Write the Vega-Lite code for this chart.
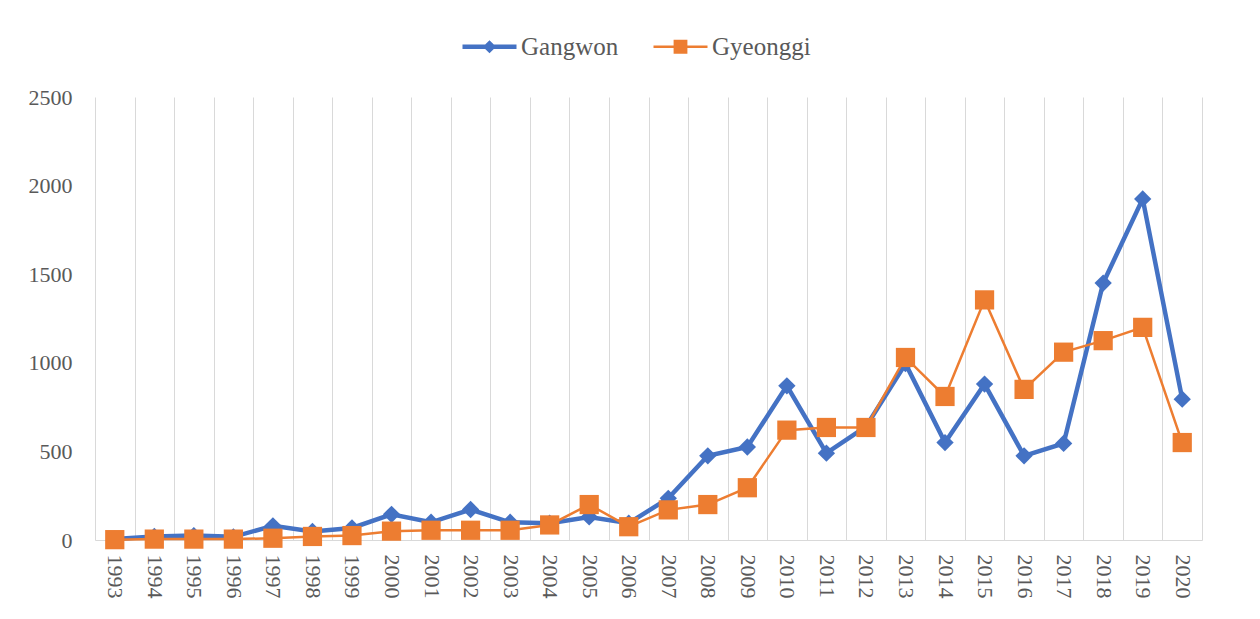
{
  "$schema": "https://vega.github.io/schema/vega-lite/v6.json",
  "width": 1107,
  "height": 443,
  "autosize": {"type": "none"},
  "padding": {"left": 95, "top": 97, "right": 58, "bottom": 79},
  "background": "white",
  "config": {"view": {"stroke": null}},
  "data": {
    "values": [
      {"year": 1993, "region": "Gangwon", "value": 5}, {"year": 1994, "region": "Gangwon", "value": 20},
      {"year": 1995, "region": "Gangwon", "value": 25}, {"year": 1996, "region": "Gangwon", "value": 18},
      {"year": 1997, "region": "Gangwon", "value": 80}, {"year": 1998, "region": "Gangwon", "value": 48},
      {"year": 1999, "region": "Gangwon", "value": 68}, {"year": 2000, "region": "Gangwon", "value": 145},
      {"year": 2001, "region": "Gangwon", "value": 100}, {"year": 2002, "region": "Gangwon", "value": 172},
      {"year": 2003, "region": "Gangwon", "value": 100}, {"year": 2004, "region": "Gangwon", "value": 95},
      {"year": 2005, "region": "Gangwon", "value": 130}, {"year": 2006, "region": "Gangwon", "value": 95},
      {"year": 2007, "region": "Gangwon", "value": 235}, {"year": 2008, "region": "Gangwon", "value": 475},
      {"year": 2009, "region": "Gangwon", "value": 525}, {"year": 2010, "region": "Gangwon", "value": 870},
      {"year": 2011, "region": "Gangwon", "value": 490}, {"year": 2012, "region": "Gangwon", "value": 640},
      {"year": 2013, "region": "Gangwon", "value": 995}, {"year": 2014, "region": "Gangwon", "value": 550},
      {"year": 2015, "region": "Gangwon", "value": 880}, {"year": 2016, "region": "Gangwon", "value": 475},
      {"year": 2017, "region": "Gangwon", "value": 545}, {"year": 2018, "region": "Gangwon", "value": 1450},
      {"year": 2019, "region": "Gangwon", "value": 1925}, {"year": 2020, "region": "Gangwon", "value": 795},
      {"year": 1993, "region": "Gyeonggi", "value": 2}, {"year": 1994, "region": "Gyeonggi", "value": 5},
      {"year": 1995, "region": "Gyeonggi", "value": 5}, {"year": 1996, "region": "Gyeonggi", "value": 5},
      {"year": 1997, "region": "Gyeonggi", "value": 10}, {"year": 1998, "region": "Gyeonggi", "value": 20},
      {"year": 1999, "region": "Gyeonggi", "value": 25}, {"year": 2000, "region": "Gyeonggi", "value": 50},
      {"year": 2001, "region": "Gyeonggi", "value": 55}, {"year": 2002, "region": "Gyeonggi", "value": 55},
      {"year": 2003, "region": "Gyeonggi", "value": 55}, {"year": 2004, "region": "Gyeonggi", "value": 85},
      {"year": 2005, "region": "Gyeonggi", "value": 200}, {"year": 2006, "region": "Gyeonggi", "value": 75},
      {"year": 2007, "region": "Gyeonggi", "value": 170}, {"year": 2008, "region": "Gyeonggi", "value": 200},
      {"year": 2009, "region": "Gyeonggi", "value": 295}, {"year": 2010, "region": "Gyeonggi", "value": 620},
      {"year": 2011, "region": "Gyeonggi", "value": 635}, {"year": 2012, "region": "Gyeonggi", "value": 635},
      {"year": 2013, "region": "Gyeonggi", "value": 1030}, {"year": 2014, "region": "Gyeonggi", "value": 810},
      {"year": 2015, "region": "Gyeonggi", "value": 1355}, {"year": 2016, "region": "Gyeonggi", "value": 850},
      {"year": 2017, "region": "Gyeonggi", "value": 1060}, {"year": 2018, "region": "Gyeonggi", "value": 1125},
      {"year": 2019, "region": "Gyeonggi", "value": 1200}, {"year": 2020, "region": "Gyeonggi", "value": 550}
    ]
  },
  "encoding": {
    "x": {
      "field": "year", "type": "ordinal", "bandPosition": 0.5,
      "scale": {"type": "band", "paddingInner": 0, "paddingOuter": 0},
      "axis": {
        "title": null, "tickBand": "extent", "grid": true, "gridColor": "#d9d9d9", "gridWidth": 1,
        "ticks": false, "domainColor": "#d9d9d9", "domainWidth": 1,
        "labelAngle": 90, "labelAlign": "left", "labelBaseline": "middle", "labelPadding": 14,
        "labelFont": "Liberation Serif", "labelFontSize": 22, "labelColor": "#595959"
      }
    },
    "y": {
      "field": "value", "type": "quantitative",
      "scale": {"domain": [0, 2500], "nice": false},
      "axis": {
        "title": null, "values": [0, 500, 1000, 1500, 2000, 2500], "format": "d", "grid": false, "domain": false, "ticks": false,
        "labelPadding": 23, "labelFont": "Liberation Serif", "labelFontSize": 22, "labelColor": "#595959"
      }
    }
  },
  "layer": [
    {
      "transform": [{"filter": "datum.region === 'Gangwon'"}],
      "mark": {"type": "line", "color": "#4472C4", "strokeWidth": 4.5}
    },
    {
      "transform": [{"filter": "datum.region === 'Gangwon'"}],
      "mark": {"type": "point", "shape": "diamond", "filled": true, "color": "#4472C4", "size": 300, "opacity": 1}
    },
    {
      "transform": [{"filter": "datum.region === 'Gyeonggi'"}],
      "mark": {"type": "line", "color": "#ED7D31", "strokeWidth": 2.5}
    },
    {
      "transform": [{"filter": "datum.region === 'Gyeonggi'"}],
      "mark": {"type": "point", "shape": "square", "filled": true, "color": "#ED7D31", "size": 370, "opacity": 1}
    },
    {
      "transform": [{"filter": "datum.year === 1993"}],
      "mark": {"type": "point", "filled": true, "opacity": 0},
      "encoding": {
        "color": {
          "field": "region", "type": "nominal",
          "scale": {"domain": ["Gangwon", "Gyeonggi"], "range": ["#4472C4", "#ED7D31"]},
          "legend": {
            "title": null, "orient": "none", "direction": "horizontal",
            "legendX": 382, "legendY": -63, "padding": 0,
            "symbolOpacity": 1, "symbolStrokeWidth": 0, "symbolSize": 144,
            "labelOffset": 19, "columnPadding": 34,
            "labelFont": "Liberation Serif", "labelFontSize": 25, "labelColor": "#595959"
          }
        },
        "shape": {
          "field": "region", "type": "nominal",
          "scale": {"domain": ["Gangwon", "Gyeonggi"], "range": [
            "M-4.5,-0.36H4.5V0.36H-4.5Z M-1.1,0L0,-1.1L1.1,0L0,1.1Z",
            "M-4.5,-0.22H4.5V0.22H-4.5Z M-1.15,-1.15H1.15V1.15H-1.15Z"
          ]},
          "legend": {
            "title": null, "orient": "none", "direction": "horizontal",
            "legendX": 382, "legendY": -63, "padding": 0,
            "symbolOpacity": 1, "symbolStrokeWidth": 0, "symbolSize": 144,
            "labelOffset": 19, "columnPadding": 34,
            "labelFont": "Liberation Serif", "labelFontSize": 25, "labelColor": "#595959"
          }
        }
      }
    }
  ]
}
